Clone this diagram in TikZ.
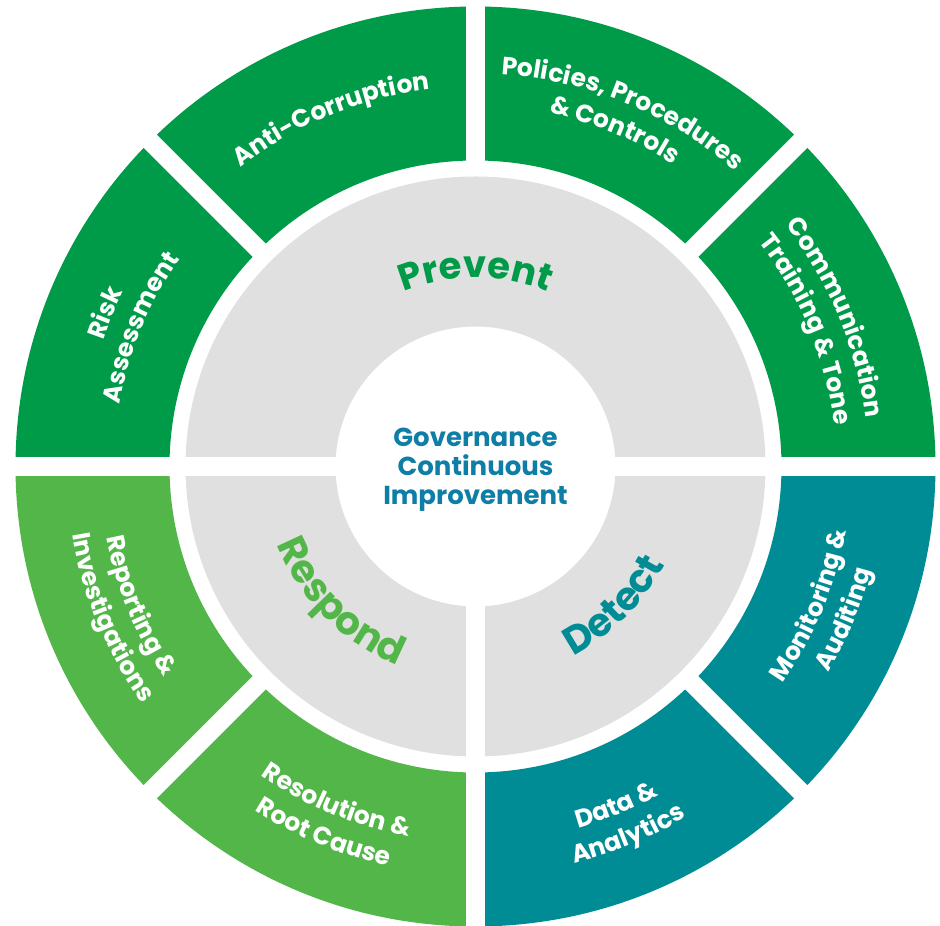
\documentclass[tikz,border=0pt]{standalone}
\usepackage{fontspec}
\newfontfamily\lblfont{Poppins}[UprightFont={* Bold}]
\usetikzlibrary{decorations.text,calc}
\definecolor{dkgreen}{HTML}{009B48}
\definecolor{ltgreen}{HTML}{52B748}
\definecolor{tealc}{HTML}{008C95}
\definecolor{ringgray}{HTML}{E0E0E0}
\definecolor{govblue}{HTML}{0F7EA6}
\newcommand\ringtext[6]{%
  \path[decorate,decoration={text along path,text align=center,text color=#6,
    text={|\lblfont\fontsize{#4}{#4}\selectfont|#5}}]
    ($(C)+(#2:#1)$) arc[start angle=#2,end angle=#3,radius=#1];}
\tikzset{gapline/.style={white,line width=18.5pt}}
\begin{document}
\begin{tikzpicture}[x=1pt,y=1pt]
\useasboundingbox (0,0) rectangle (940,926);
\fill[white] (0,0) rectangle (940,926);
\coordinate (C) at (475.5,459.5);
% outer ring
\fill[dkgreen] ($(C)+(0:306)$) arc[start angle=0,end angle=180,radius=306]
  -- ($(C)+(180:460)$) arc[start angle=180,end angle=0,radius=460] -- cycle;
\fill[ltgreen] ($(C)+(180:306)$) arc[start angle=180,end angle=270,radius=306]
  -- ($(C)+(270:460)$) arc[start angle=270,end angle=180,radius=460] -- cycle;
\fill[tealc] ($(C)+(270:306)$) arc[start angle=270,end angle=360,radius=306]
  -- ($(C)+(360:460)$) arc[start angle=360,end angle=270,radius=460] -- cycle;
% gray ring
\fill[ringgray,even odd rule] (C) circle[radius=290] (C) circle[radius=140];
% gaps
\coordinate (gW) at ($(C)+(-475,0)$);
\coordinate (gE) at ($(C)+(475,0)$);
\coordinate (gS) at ($(C)+(0,-470)$);
\draw[gapline] (gW) -- (gE);
\draw[gapline] (C) -- (gS);
\foreach \a in {45,90,135,225,315}{
  \draw[gapline] ($(C)+(\a:292)$) -- ($(C)+(\a:470)$);
}
% centre text
\node[align=center,text=govblue,font=\lblfont\fontsize{26}{29}\selectfont] (gov) at ($(C)+(0,-3)$)
  {Governance\\Continuous\\Improvement};
% inner labels
\ringtext{189}{150}{30}{37}{Prevent}{dkgreen}
\ringtext{213}{165}{285}{39}{Respond}{ltgreen}
\ringtext{213}{255}{375}{39}{Detect}{tealc}
% outer labels, top half
\ringtext{380}{152.5}{72.5}{25}{Anti-Corruption}{white}
\ringtext{393}{107.5}{27.5}{25}{Policies, Procedures}{white}
\ringtext{361}{107.5}{27.5}{25}{{\&} Controls}{white}
\ringtext{393}{62.5}{-17.5}{25}{Communication}{white}
\ringtext{361}{62.5}{-17.5}{25}{Training {\&} Tone}{white}
\ringtext{393}{197.5}{117.5}{25}{Risk}{white}
\ringtext{361}{197.5}{117.5}{25}{Assessment}{white}
% outer labels, bottom half
\ringtext{376}{162.5}{242.5}{25}{Reporting {\&}}{white}
\ringtext{409}{162.5}{242.5}{25}{Investigations}{white}
\ringtext{376}{207.5}{287.5}{25}{Resolution {\&}}{white}
\ringtext{409}{207.5}{287.5}{25}{Root Cause}{white}
\ringtext{376}{252.5}{332.5}{25}{Data {\&}}{white}
\ringtext{409}{252.5}{332.5}{25}{Analytics}{white}
\ringtext{376}{297.5}{377.5}{25}{Monitoring {\&}}{white}
\ringtext{409}{297.5}{377.5}{25}{Auditing}{white}
\end{tikzpicture}
\end{document}
